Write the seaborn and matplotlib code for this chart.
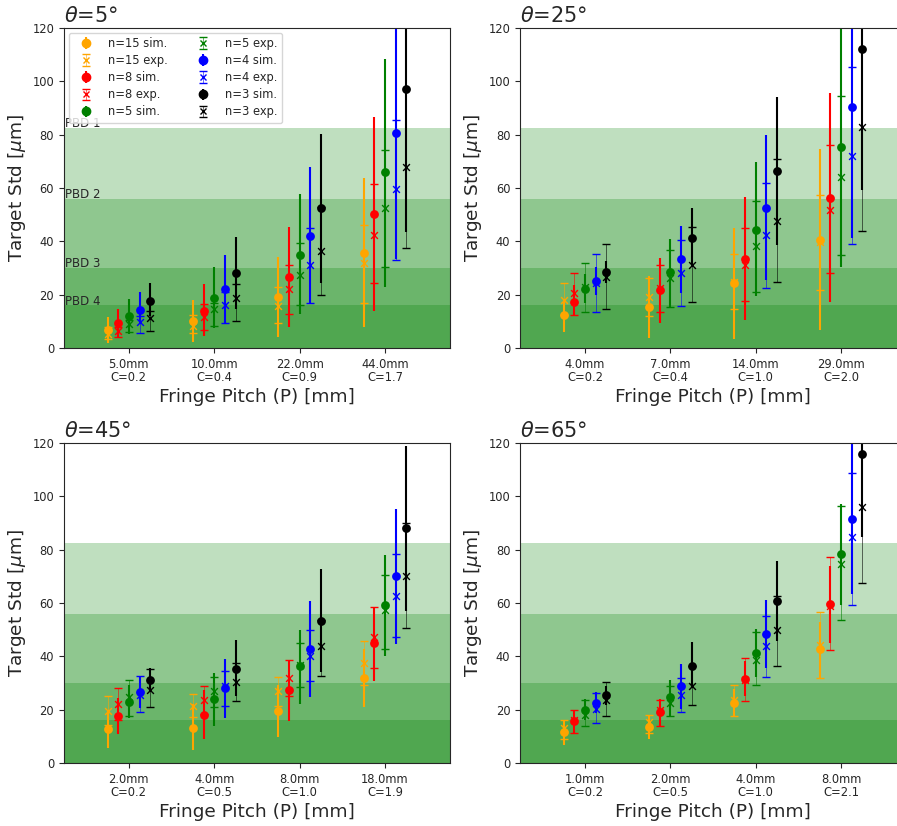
"""Target std vs fringe pitch, simulation against experiment, four incidence angles."""

import matplotlib.pyplot as plt
import matplotlib.transforms as mtransforms
import pandas as pd
import seaborn as sns
from matplotlib.legend_handler import HandlerTuple
from matplotlib.lines import Line2D

# ---- data ----
N_VALUES = ["15", "8", "5", "4", "3"]
COLORS = ["orange", "red", "green", "blue", "black"]
OFFSETS = [-0.25, -0.125, 0.0, 0.125, 0.25]

PBD_LEVELS = [82.5, 56, 30, 16]
PBD_NAMES = ["PBD 1", "PBD 2", "PBD 3", "PBD 4"]

ANGLES = [5, 25, 45, 65]

PITCH = {
    5: ["5.0mm", "10.0mm", "22.0mm", "44.0mm"],
    25: ["4.0mm", "7.0mm", "14.0mm", "29.0mm"],
    45: ["2.0mm", "4.0mm", "8.0mm", "18.0mm"],
    65: ["1.0mm", "2.0mm", "4.0mm", "8.0mm"],
}
CONTRAST = {
    5: ["0.2", "0.4", "0.9", "1.7"],
    25: ["0.2", "0.4", "1.0", "2.0"],
    45: ["0.2", "0.5", "1.0", "1.9"],
    65: ["0.2", "0.5", "1.0", "2.1"],
}

# rows: n = 15, 8, 5, 4, 3 ; columns: the four fringe pitches
SIM_5 = [[6.8, 10.3, 19.3, 35.6], [9.3, 13.9, 26.6, 50.3], [12.1, 18.8, 35.0, 65.9],
         [14.4, 22.1, 41.9, 80.7], [17.8, 28.1, 52.4, 97.3]]
SIM_LO_5 = [[1.9, 2.4, 4.3, 8.0], [3.8, 4.4, 7.8, 13.8], [5.3, 7.5, 12.8, 23.0],
            [9.6, 9.3, 16.9, 33.4], [12.1, 14.6, 24.4, 43.4]]
SIM_HI_5 = [[11.5, 18.1, 34.0, 63.6], [14.6, 24.0, 45.3, 86.5], [18.4, 30.5, 57.8, 108.4],
            [20.9, 35.0, 67.8, 125.0], [24.4, 41.8, 80.1, 130.0]]
EXP_5 = [[5.3, 8.4, 15.9, 31.8], [6.5, 11.5, 22.1, 42.4], [9.0, 14.6, 27.4, 52.5],
         [9.9, 16.3, 31.1, 59.6], [11.3, 18.8, 36.5, 67.8]]
EXP_LO_5 = [[3.5, 5.5, 9.5, 16.9], [4.0, 6.9, 12.6, 24.4], [6.0, 8.4, 16.1, 30.5],
            [5.8, 9.3, 17.0, 33.1], [6.4, 10.1, 19.9, 37.4]]
EXP_HI_5 = [[8.0, 12.5, 23.0, 46.1], [7.8, 16.5, 31.1, 61.4], [10.5, 17.0, 39.3, 74.3],
            [12.0, 21.0, 45.0, 85.5], [14.0, 24.0, 53.0, 125.0]]

SIM_25 = [[12.4, 15.5, 24.2, 40.6], [17.4, 21.7, 33.4, 56.3], [22.0, 28.6, 44.3, 75.2],
          [25.1, 33.2, 52.5, 90.4], [28.6, 41.2, 66.2, 112.0]]
SIM_LO_25 = [[6.0, 3.9, 3.4, 6.6], [12.2, 9.3, 10.6, 17.4], [16.8, 15.5, 19.5, 30.4],
             [19.9, 20.7, 25.5, 41.4], [24.2, 31.1, 38.5, 59.3]]
SIM_HI_25 = [[17.4, 27.0, 45.0, 74.5], [23.6, 33.9, 56.5, 95.5], [27.6, 40.9, 69.6, 125.0],
             [30.2, 45.8, 79.8, 125.0], [32.7, 52.5, 94.2, 130.0]]
EXP_25 = [[18.0, 19.3, 24.8, 39.7], [20.5, 22.6, 31.1, 51.8], [23.0, 26.1, 38.1, 64.2],
          [24.2, 28.0, 42.2, 72.0], [26.7, 31.0, 47.8, 83.0]]
EXP_LO_25 = [[12.5, 12.0, 14.7, 21.7], [12.2, 13.5, 17.8, 28.0], [13.4, 15.2, 20.9, 34.7],
             [13.5, 15.9, 22.4, 38.9], [14.7, 17.1, 24.8, 44.0]]
EXP_HI_25 = [[24.2, 26.3, 35.2, 57.5], [28.1, 31.3, 45.0, 76.1], [31.8, 36.6, 55.3, 94.5],
             [35.3, 40.4, 61.9, 105.5], [38.9, 45.3, 70.7, 125.0]]

SIM_45 = [[12.8, 13.1, 19.6, 32.0], [17.8, 18.1, 27.5, 44.9], [22.9, 24.0, 36.3, 59.1],
          [26.6, 28.0, 42.9, 70.0], [31.1, 35.1, 53.3, 88.3]]
SIM_LO_45 = [[5.6, 4.8, 9.8, 21.0], [10.9, 9.0, 15.6, 30.8], [16.9, 13.8, 22.1, 40.0],
             [20.6, 16.9, 24.8, 44.6], [26.5, 25.0, 34.0, 57.1]]
SIM_HI_45 = [[20.0, 22.1, 29.4, 42.8], [24.4, 27.5, 38.8, 58.4], [29.1, 33.8, 50.0, 77.9],
             [32.5, 39.0, 60.9, 95.4], [35.6, 46.3, 72.8, 119.0]]
EXP_45 = [[19.6, 21.5, 27.1, 37.5], [22.3, 23.8, 31.9, 47.3], [24.8, 26.9, 36.9, 57.3],
          [25.6, 28.8, 40.0, 62.5], [27.5, 30.3, 43.8, 70.0]]
EXP_LO_45 = [[14.4, 17.3, 21.3, 29.1], [16.3, 18.5, 25.0, 35.6], [17.8, 20.9, 28.5, 42.9],
             [19.1, 21.5, 30.6, 47.1], [20.9, 23.1, 32.5, 50.5]]
EXP_HI_45 = [[25.0, 26.0, 32.3, 45.6], [28.1, 28.8, 38.8, 58.4], [31.1, 32.1, 45.0, 70.4],
             [32.5, 34.6, 49.8, 78.5], [35.3, 37.4, 53.8, 90.0]]

SIM_65 = [[11.5, 13.5, 22.5, 42.9], [15.8, 19.0, 31.5, 59.5], [20.0, 24.8, 41.3, 78.5],
          [22.5, 28.8, 48.4, 91.5], [25.4, 36.3, 60.6, 115.7]]
SIM_LO_65 = [[6.6, 9.0, 17.5, 31.9], [11.3, 13.8, 25.0, 45.0], [16.0, 17.5, 32.3, 59.4],
             [18.8, 20.3, 35.6, 63.4], [21.9, 28.0, 45.6, 84.8]]
SIM_HI_65 = [[16.3, 18.1, 27.8, 52.8], [20.0, 24.0, 38.1, 74.0], [24.0, 31.3, 50.4, 97.3],
             [26.5, 37.1, 61.0, 125.0], [28.8, 45.3, 75.6, 130.0]]
EXP_65 = [[13.1, 15.4, 23.8, 44.4], [16.3, 20.0, 31.3, 59.0], [18.1, 22.5, 38.8, 74.8],
          [20.3, 25.6, 43.8, 84.8], [23.8, 29.0, 49.8, 96.0]]
EXP_LO_65 = [[9.0, 11.3, 17.8, 31.9], [11.3, 14.0, 23.4, 42.5], [13.8, 17.5, 29.3, 53.8],
             [15.0, 19.1, 32.3, 59.4], [17.5, 21.6, 36.5, 67.5]]
EXP_HI_65 = [[16.3, 18.1, 29.4, 56.5], [20.0, 23.8, 39.4, 77.3], [23.8, 29.0, 49.0, 96.3],
             [26.3, 31.8, 55.0, 108.6], [30.5, 36.5, 62.5, 125.0]]

TABLES = {
    5: (SIM_5, SIM_LO_5, SIM_HI_5, EXP_5, EXP_LO_5, EXP_HI_5),
    25: (SIM_25, SIM_LO_25, SIM_HI_25, EXP_25, EXP_LO_25, EXP_HI_25),
    45: (SIM_45, SIM_LO_45, SIM_HI_45, EXP_45, EXP_LO_45, EXP_HI_45),
    65: (SIM_65, SIM_LO_65, SIM_HI_65, EXP_65, EXP_LO_65, EXP_HI_65),
}


def build_frame():
    rows = []
    for angle in ANGLES:
        sim, sim_lo, sim_hi, exp, exp_lo, exp_hi = TABLES[angle]
        for i, n in enumerate(N_VALUES):
            for g in range(4):
                rows.append({"angle": angle, "n": n, "kind": "sim", "group": g,
                             "x": g + OFFSETS[i], "std": sim[i][g],
                             "lo": sim_lo[i][g], "hi": sim_hi[i][g]})
                rows.append({"angle": angle, "n": n, "kind": "exp", "group": g,
                             "x": g + OFFSETS[i], "std": exp[i][g],
                             "lo": exp_lo[i][g], "hi": exp_hi[i][g]})
    return pd.DataFrame(rows)


if __name__ == "__main__":
    df = build_frame()

    sns.set_style("ticks")
    plt.rcParams["font.family"] = ["DejaVu Sans"]

    fig = plt.figure(figsize=(8.97, 8.26), dpi=100)
    w, h = 0.4303, 0.3874
    positions = [(0.0713, 0.5787), (0.5797, 0.5787), (0.0713, 0.0763), (0.5797, 0.0763)]

    legend_handles = []
    for k, angle in enumerate(ANGLES):
        ax = fig.add_axes([positions[k][0], positions[k][1], w, h])

        # PBD bands, stacked so the lower ones get darker
        for level in PBD_LEVELS:
            ax.axhspan(0, level, color="green", alpha=0.25, lw=0, zorder=0)

        sub = df[df["angle"] == angle]
        for n, color in zip(N_VALUES, COLORS):
            sim = sub[(sub["n"] == n) & (sub["kind"] == "sim")]
            exp = sub[(sub["n"] == n) & (sub["kind"] == "exp")]

            eb_sim = ax.errorbar(sim["x"], sim["std"],
                                 yerr=[sim["std"] - sim["lo"], sim["hi"] - sim["std"]],
                                 fmt="none", ecolor=color, elinewidth=1.5, zorder=2)
            eb_exp = ax.errorbar(exp["x"], exp["std"],
                                 yerr=[exp["std"] - exp["lo"], exp["hi"] - exp["std"]],
                                 fmt="none", ecolor=color, elinewidth=0.4,
                                 capsize=3, capthick=1, zorder=2)
            sns.scatterplot(data=sim, x="x", y="std", color=color, marker="o", s=40,
                            linewidth=0, zorder=3, ax=ax)
            sns.scatterplot(data=exp, x="x", y="std", color=color, marker="x", s=24,
                            linewidth=1, zorder=3, ax=ax)

            if k == 0:
                legend_handles.append(((eb_sim, Line2D([], [], marker="o", ls="", color=color, ms=6)),
                                       f"n={n} sim."))
                legend_handles.append(((eb_exp, Line2D([], [], marker="x", ls="", color=color, ms=5)),
                                       f"n={n} exp."))

        ax.set_xlim(-0.76, 3.76)
        ax.set_ylim(0, 120)
        ax.set_yticks(range(0, 121, 20))
        ax.set_xticks(range(4))
        ax.set_xticklabels([f"{p}\nC={c}" for p, c in zip(PITCH[angle], CONTRAST[angle])],
                           fontsize=8.3, linespacing=1.05)
        ax.tick_params(axis="y", labelsize=8.3)
        ax.set_xlabel("Fringe Pitch (P) [mm]", fontsize=13.3, labelpad=3)
        ax.set_ylabel(r"Target Std [$\mu$m]", fontsize=13.3, labelpad=3)
        ax.set_title(rf"$\theta$={angle}°", loc="left", fontsize=15, pad=4)

        if k == 0:
            trans = mtransforms.blended_transform_factory(ax.transAxes, ax.transData)
            for level, name in zip(PBD_LEVELS, PBD_NAMES):
                ax.text(0.003, level + 1.5, name, transform=trans, va="center",
                        ha="left", fontsize=8.5, color="0.15", zorder=1)
            handles = [hd for hd, _ in legend_handles]
            labels = [lb for _, lb in legend_handles]
            leg = ax.legend(handles, labels, loc="upper left", ncol=2, fontsize=8.3,
                            handler_map={tuple: HandlerTuple(ndivide=1)},
                            borderaxespad=0.4, columnspacing=2.0, handlelength=2.2,
                            labelspacing=0.35)
            leg.set_zorder(5)

    fig.savefig("out.png", dpi=100)
    plt.close()
